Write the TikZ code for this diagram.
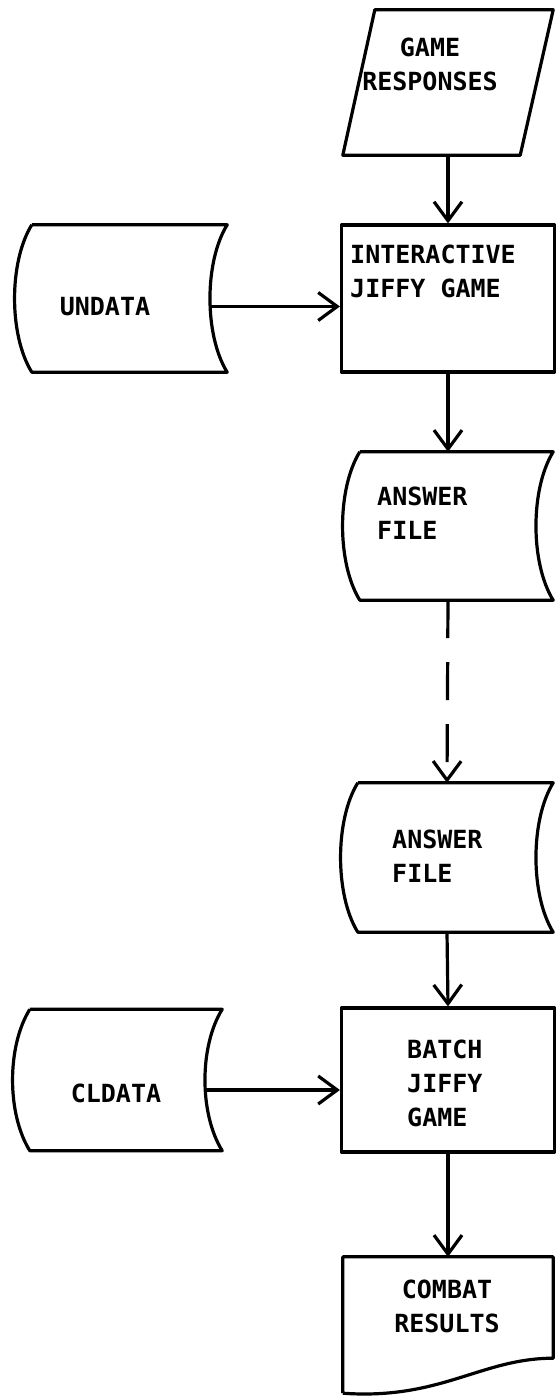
\documentclass[tikz,border=0pt]{standalone}
\usepackage{fontspec}
\newfontfamily\flowfont{DejaVu Sans Mono}
\usetikzlibrary{arrows.meta}

\begin{document}
\begin{tikzpicture}[
  x=1pt, y=-1pt,
  >={Straight Barb[length=19pt, width=28pt]},
  every node/.style={font=\flowfont\bfseries\fontsize{25}{34}\selectfont, inner sep=0pt},
  frame/.style 2 args={minimum width=#1pt, minimum height=#2pt},
  outline/.style={line width=3.2pt, line join=round},
  flow/.style={outline, ->},
]

% Page
\fill[white] (0,0) rectangle (557,1400);
\useasboundingbox (0,0) rectangle (557,1400);

% ============ Shapes ============
\node[frame={210}{145}] (resp) at (448,82.5) {};
\node[frame={213}{147}, draw, outline] (inter) at (448,298.5) {};
\node[frame={212}{147}] (undata) at (121,298.5) {};
\node[frame={210}{148}] (ans1) at (448,526) {};
\node[frame={212}{149}] (ans2) at (447,857.5) {};
\node[frame={213}{144}, draw, outline] (batch) at (448,1080) {};
\node[frame={209}{141}] (cldata) at (117.5,1080) {};
\node[frame={210}{136}] (combat) at (448,1325) {};

% Input card (parallelogram)
\draw[outline] ([xshift=32pt]resp.north west) -- (resp.north east)
  -- ([xshift=-33pt]resp.south east) -- (resp.south west) -- cycle;

% Stored data
\foreach \n in {undata, ans1, ans2, cldata} {
  \draw[outline] ([xshift=17pt]\n.north west) -- (\n.north east)
    .. controls +(-23,37) and +(-23,-37) .. (\n.south east)
    -- ([xshift=17pt]\n.south west)
    .. controls +(-23,-37) and +(-23,37) .. ([xshift=17pt]\n.north west);
}

% Printed output (document)
\draw[outline] (combat.south west) -- (combat.north west) -- (combat.north east)
  -- ([yshift=35pt]combat.south east)
  .. controls +(-72,0) and +(98,7) .. (combat.south west);

% ============ Labels ============
\node[align=center] (resp-txt) at (430,64) {GAME\\RESPONSES};
\node[align=left, anchor=west] (inter-txt) at (350,271) {INTERACTIVE\\JIFFY GAME};
\node (undata-txt) at (105,307) {UNDATA};
\node[align=left, anchor=west] (ans1-txt) at (377,513) {ANSWER\\FILE};
\node[align=left, anchor=west] (ans2-txt) at (392,856) {ANSWER\\FILE};
\node (cldata-txt) at (116,1093) {CLDATA};
\node[align=left, anchor=west] (batch-txt) at (407,1083) {BATCH\\JIFFY\\GAME};
\node[align=center] (combat-txt) at (447,1306) {COMBAT\\RESULTS};

% ============ Connectors ============
\draw[flow] (resp.south) -- (inter.north);
\draw[flow] ([xshift=-17pt,yshift=-8pt]undata.east) -- ([yshift=-8pt]inter.west);
\draw[flow] (inter.south) -- (ans1.north);
\draw[flow, dash pattern=on 38pt off 24pt] (ans1.south) -- (ans2.north);
\draw[flow] (ans2.south) -- (batch.north);
\draw[flow] ([xshift=-16pt,yshift=-10pt]cldata.east) -- ([yshift=-10pt]batch.west);
\draw[flow] (batch.south) -- (combat.north);

\end{tikzpicture}
\end{document}
